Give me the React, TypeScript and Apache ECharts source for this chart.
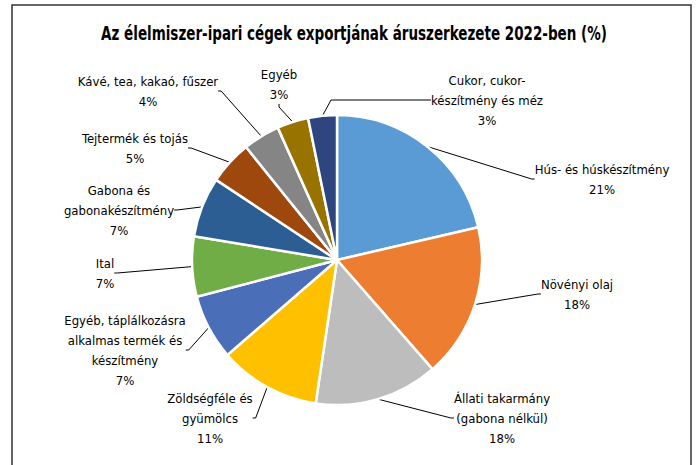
import { useEffect, useRef } from 'react';
import * as echarts from 'echarts';

const titleText = 'Az élelmiszer-ipari cégek exportjának áruszerkezete 2022-ben (%)';

const categories = [
  'Hús- és húskészítmény',
  'Növényi olaj',
  'Állati takarmány\n(gabona nélkül)',
  'Zöldségféle és\ngyümölcs',
  'Egyéb, táplálkozásra\nalkalmas termék és\nkészítmény',
  'Ital',
  'Gabona és\ngabonakészítmény',
  'Tejtermék és tojás',
  'Kávé, tea, kakaó, fűszer',
  'Egyéb',
  'Cukor, cukor-\nkészítmény és méz',
];

// slice shares
const shares = [21.4, 17.2, 13.8, 11.3, 7.3, 6.7, 6.7, 4.9, 4.1, 3.5, 3.2];

// percentages as printed on the labels
const percentLabels = [21, 18, 18, 11, 7, 7, 7, 5, 4, 3, 3];

const colors = [
  '#5B9BD5', '#ED7D31', '#BDBDBD', '#FFC000', '#4A6FB8', '#70AD47',
  '#2C5E93', '#9E480E', '#858585', '#997300', '#2F4580',
];

// label block centres (layout, not data)
const labelCenters = [
  [602, 179], [577, 294], [502, 418], [210, 418], [125, 350], [105, 273],
  [119, 210], [135, 148], [148, 91], [279, 84], [487, 100],
];

const FONT = "'DejaVu Sans Condensed', 'Liberation Sans Narrow', sans-serif";

export default function App() {
  const ref = useRef<HTMLDivElement>(null);
  useEffect(() => {
    if (!ref.current) return;
    const chart = echarts.init(ref.current, null, { renderer: 'svg' });
    const data = categories.map((name, i) => ({
      name,
      value: shares[i],
      itemStyle: { color: colors[i] },
      ...(i === categories.length - 1 ? { labelLine: { length2: 100 } } : {}),
    }));
    chart.setOption({
      animation: false,
      backgroundColor: '#fff',
      graphic: [
        {
          type: 'rect',
          shape: { x: 12, y: 5, width: 679, height: 480 },
          style: { fill: 'none', stroke: '#333', lineWidth: 1.5 },
          silent: true,
        },
        {
          type: 'text',
          x: 354,
          y: 33,
          scaleX: 0.79,
          style: {
            text: titleText,
            fontFamily: FONT,
            fontWeight: 'bold',
            fontSize: 19,
            fill: '#000',
            align: 'center',
            verticalAlign: 'middle',
          },
          silent: true,
        },
      ],
      series: [
        {
          type: 'pie',
          center: [337, 260],
          radius: 145,
          startAngle: 90,
          clockwise: true,
          data,
          itemStyle: { borderColor: '#fff', borderWidth: 2.5 },
          label: {
            show: true,
            fontFamily: FONT,
            fontSize: 13,
            lineHeight: 20,
            color: '#000',
            align: 'center',
            formatter: (p: any) => `${p.name}\n${percentLabels[p.dataIndex]}%`,
          },
          labelLine: {
            show: true,
            length: 10,
            length2: 3,
            lineStyle: { color: '#000', width: 1 },
          },
          labelLayout: (params: any) => {
            const c = labelCenters[params.dataIndex];
            return { x: c[0], y: c[1], align: 'center', verticalAlign: 'middle' };
          },
          emphasis: { disabled: true },
        },
      ],
    });
    return () => chart.dispose();
  }, []);
  return (
    <div
      ref={ref}
      style={{ position: 'fixed', left: 0, top: 0, width: 697, height: 465 }}
    />
  );
}
